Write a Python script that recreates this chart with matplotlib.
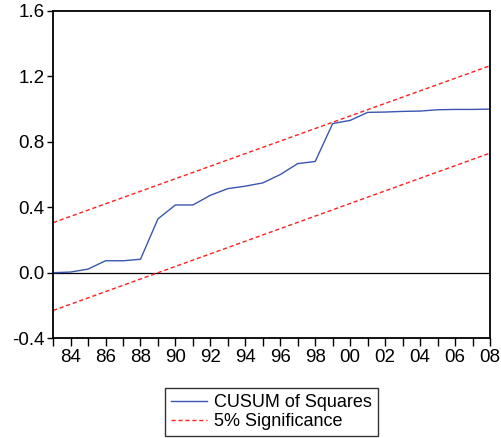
import matplotlib
matplotlib.use("Agg")
from matplotlib import pyplot as plt

plt.rcParams['font.family'] = ['Liberation Sans', 'DejaVu Sans']

years = list(range(1983, 2009))
cusum_sq = [0.000, 0.004, 0.022, 0.073, 0.073, 0.082, 0.329, 0.414, 0.414, 0.473,
            0.514, 0.529, 0.549, 0.600, 0.667, 0.680, 0.912, 0.931, 0.980, 0.982,
            0.986, 0.988, 0.996, 0.998, 0.998, 1.000]
band_years = [1983, 2008]
upper = [0.306, 1.265]
lower = [-0.231, 0.731]

fig = plt.figure(figsize=(5.01, 4.38), dpi=100)
ax = fig.add_axes([0.106, 0.228, 0.872, 0.747])

ax.axhline(0, color='black', linewidth=0.9)
ax.plot(years, cusum_sq, color='#3a56b0', linewidth=1.0, label='CUSUM of Squares')
ax.plot(band_years, upper, color='#ff2020', linewidth=1.0, linestyle=(0, (3, 2)),
        label='5% Significance')
ax.plot(band_years, lower, color='#ff2020', linewidth=1.0, linestyle=(0, (3, 2)))

ax.set_xlim(1983, 2008)
ax.set_ylim(-0.4, 1.6)
ax.set_yticks([-0.4, 0.0, 0.4, 0.8, 1.2, 1.6])
ax.set_yticklabels(['-0.4', '0.0', '0.4', '0.8', '1.2', '1.6'])
ax.set_xticks(years)
ax.set_xticklabels(['%02d' % (y % 100) if y % 2 == 0 else '' for y in years])
ax.tick_params(axis='x', direction='out', length=6, width=1, labelsize=13.5, pad=2)
ax.tick_params(axis='y', direction='out', length=4, width=1, labelsize=13.5, pad=2)
for s in ax.spines.values():
    s.set_linewidth(1.3)

leg = fig.legend(loc='lower center', bbox_to_anchor=(0.542, 0.0), ncol=1,
                 fontsize=13, frameon=True, fancybox=False, edgecolor='black',
                 borderpad=0.35, labelspacing=0.1, handlelength=2.0, handletextpad=0.4,
                 borderaxespad=0.1)
leg.get_frame().set_linewidth(1.0)

fig.savefig('out.png', dpi=100)
